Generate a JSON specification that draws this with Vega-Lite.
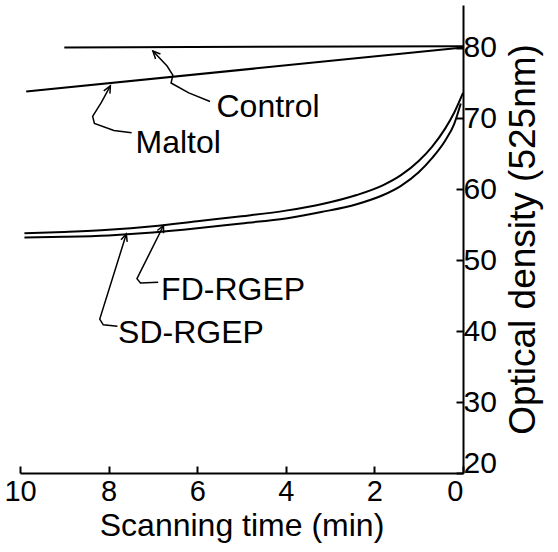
{
  "$schema": "https://vega.github.io/schema/vega-lite/v6.json",
  "width": 443,
  "height": 468,
  "autosize": {"type": "none"},
  "padding": {"left": 20, "top": 5, "right": 95, "bottom": 79},
  "background": "white",
  "config": {
    "view": {"stroke": null},
    "font": "Liberation Sans",
    "axis": {"grid": false, "domainColor": "black", "tickColor": "black", "labelColor": "black", "titleColor": "black", "titleFontWeight": "normal", "domainWidth": 2, "tickWidth": 2}
  },
  "datasets": {
    "curves": [
      {"series": "Control", "t": 9.0, "od": 80.0},
      {"series": "Control", "t": 0.0, "od": 80.2},
      {"series": "Maltol", "t": 9.86, "od": 73.8},
      {"series": "Maltol", "t": 0.0, "od": 80.0},
      {"series": "FD-RGEP", "t": 9.9, "od": 53.8},
      {"series": "FD-RGEP", "t": 9.0, "od": 54.0},
      {"series": "FD-RGEP", "t": 8.0, "od": 54.3},
      {"series": "FD-RGEP", "t": 7.0, "od": 54.8},
      {"series": "FD-RGEP", "t": 6.0, "od": 55.5},
      {"series": "FD-RGEP", "t": 5.0, "od": 56.2},
      {"series": "FD-RGEP", "t": 4.0, "od": 57.0},
      {"series": "FD-RGEP", "t": 3.2, "od": 57.9},
      {"series": "FD-RGEP", "t": 2.4, "od": 59.2},
      {"series": "FD-RGEP", "t": 1.8, "od": 60.6},
      {"series": "FD-RGEP", "t": 1.4, "od": 62.0},
      {"series": "FD-RGEP", "t": 1.0, "od": 64.0},
      {"series": "FD-RGEP", "t": 0.7, "od": 66.0},
      {"series": "FD-RGEP", "t": 0.4, "od": 68.6},
      {"series": "FD-RGEP", "t": 0.2, "od": 70.8},
      {"series": "FD-RGEP", "t": 0.0, "od": 73.6},
      {"series": "SD-RGEP", "t": 9.9, "od": 53.2},
      {"series": "SD-RGEP", "t": 9.0, "od": 53.3},
      {"series": "SD-RGEP", "t": 8.0, "od": 53.5},
      {"series": "SD-RGEP", "t": 7.0, "od": 53.9},
      {"series": "SD-RGEP", "t": 6.0, "od": 54.5},
      {"series": "SD-RGEP", "t": 5.0, "od": 55.2},
      {"series": "SD-RGEP", "t": 4.0, "od": 55.9},
      {"series": "SD-RGEP", "t": 3.2, "od": 56.8},
      {"series": "SD-RGEP", "t": 2.4, "od": 57.9},
      {"series": "SD-RGEP", "t": 1.8, "od": 59.2},
      {"series": "SD-RGEP", "t": 1.4, "od": 60.5},
      {"series": "SD-RGEP", "t": 1.0, "od": 62.4},
      {"series": "SD-RGEP", "t": 0.7, "od": 64.4},
      {"series": "SD-RGEP", "t": 0.4, "od": 66.9},
      {"series": "SD-RGEP", "t": 0.2, "od": 69.2},
      {"series": "SD-RGEP", "t": 0.05, "od": 72.1}
    ],
    "leaders": [
      {"id": "Control", "k": 1, "t": 5.71, "od": 72.4},
      {"id": "Control", "k": 2, "t": 6.19, "od": 73.6},
      {"id": "Control", "k": 3, "t": 6.59, "od": 75.0},
      {"id": "Control", "k": 4, "t": 6.55, "od": 76.1},
      {"id": "Control", "k": 5, "t": 6.68, "od": 77.4},
      {"id": "Control", "k": 6, "t": 7.0, "od": 79.5},
      {"id": "Control-head", "k": 1, "t": 6.83, "od": 79.1},
      {"id": "Control-head", "k": 2, "t": 7.0, "od": 79.5},
      {"id": "Control-head", "k": 3, "t": 6.94, "od": 78.4},
      {"id": "Maltol", "k": 1, "t": 7.48, "od": 68.0},
      {"id": "Maltol", "k": 2, "t": 7.88, "od": 68.3},
      {"id": "Maltol", "k": 3, "t": 8.32, "od": 69.3},
      {"id": "Maltol", "k": 4, "t": 8.36, "od": 70.3},
      {"id": "Maltol", "k": 5, "t": 8.16, "od": 72.3},
      {"id": "Maltol", "k": 6, "t": 7.96, "od": 74.6},
      {"id": "Maltol-head", "k": 1, "t": 7.97, "od": 73.5},
      {"id": "Maltol-head", "k": 2, "t": 7.96, "od": 74.6},
      {"id": "Maltol-head", "k": 3, "t": 8.11, "od": 73.9},
      {"id": "FD", "k": 1, "t": 6.88, "od": 46.9},
      {"id": "FD", "k": 2, "t": 7.28, "od": 46.8},
      {"id": "FD", "k": 3, "t": 7.36, "od": 47.4},
      {"id": "FD", "k": 4, "t": 6.76, "od": 54.9},
      {"id": "FD-head", "k": 1, "t": 6.76, "od": 53.8},
      {"id": "FD-head", "k": 2, "t": 6.76, "od": 54.9},
      {"id": "FD-head", "k": 3, "t": 6.90, "od": 54.2},
      {"id": "SD", "k": 1, "t": 7.80, "od": 40.7},
      {"id": "SD", "k": 2, "t": 8.12, "od": 40.9},
      {"id": "SD", "k": 3, "t": 8.20, "od": 41.7},
      {"id": "SD", "k": 4, "t": 7.60, "od": 53.7},
      {"id": "SD-head", "k": 1, "t": 7.58, "od": 52.6},
      {"id": "SD-head", "k": 2, "t": 7.60, "od": 53.7},
      {"id": "SD-head", "k": 3, "t": 7.72, "od": 52.9}
    ],
    "labels": [
      {"text": "Control", "t": 4.4, "od": 71.6},
      {"text": "Maltol", "t": 6.43, "od": 66.5},
      {"text": "FD-RGEP", "t": 5.19, "od": 45.8},
      {"text": "SD-RGEP", "t": 6.14, "od": 39.8}
    ]
  },
  "layer": [
    {
      "data": {"name": "curves"},
      "mark": {"type": "line", "color": "black", "strokeWidth": 2, "interpolate": "monotone"},
      "encoding": {
        "x": {"field": "t", "type": "quantitative", "scale": {"domain": [0, 10], "reverse": true, "nice": false, "zero": false},
          "axis": {"orient": "bottom", "title": "Scanning time (min)", "values": [0, 2, 4, 6, 8, 10], "tickSize": -7, "labelPadding": 11, "labelFontSize": 29, "titleFontSize": 32, "titlePadding": 4, "labelFlush": false,
            "labelAlign": {"expr": "datum.value == 0 ? 'right' : 'center'"}}},
        "y": {"field": "od", "type": "quantitative", "scale": {"domain": [20, 86], "nice": false, "zero": false},
          "axis": {"orient": "right", "title": "Optical density (525nm)", "titleAngle": 270, "titleBaseline": "top", "values": [20, 30, 40, 50, 60, 70, 80], "tickSize": -7, "labelPadding": 7, "labelFontSize": 30, "titleFontSize": 37, "titlePadding": 9, "labelFlush": false,
            "labelOffset": {"expr": "datum.value == 20 ? -10 : 0"}}},
        "detail": {"field": "series"},
        "order": {"field": "t", "sort": "descending"}
      }
    },
    {
      "data": {"name": "leaders"},
      "mark": {"type": "line", "color": "black", "strokeWidth": 1.5},
      "encoding": {
        "x": {"field": "t", "type": "quantitative"},
        "y": {"field": "od", "type": "quantitative"},
        "detail": {"field": "id"},
        "order": {"field": "k"}
      }
    },
    {
      "data": {"name": "labels"},
      "mark": {"type": "text", "fontSize": 32, "color": "black", "align": "center", "baseline": "middle"},
      "encoding": {
        "x": {"field": "t", "type": "quantitative"},
        "y": {"field": "od", "type": "quantitative"},
        "text": {"field": "text"}
      }
    }
  ]
}
